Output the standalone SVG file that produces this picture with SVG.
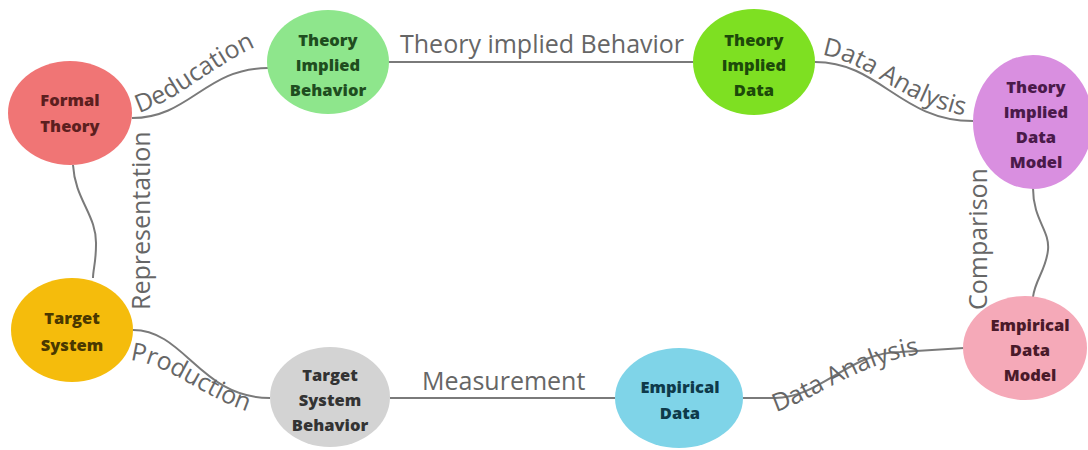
<svg xmlns="http://www.w3.org/2000/svg" width="1088" height="450" viewBox="0 0 1088 450">
<defs>
<style>
.edge{fill:none;stroke:#7a7a7a;stroke-width:2}
.guide{fill:none;stroke:none}
.lbl{font-family:"Open Sans","Liberation Sans",sans-serif;font-size:25px;fill:#666}
.nt{font-family:"Open Sans","Liberation Sans",sans-serif;font-size:16.5px;font-weight:800;text-anchor:middle}
</style>
<path id="g1" class="guide" d="M139,113 C180,100 218,60 268,42"/>
<path id="g2" class="guide" d="M822,55 C870,62 905,108 975,117"/>
<path id="g3" class="guide" d="M130,360 C170,364 205,400 256,414"/>
<path id="g4" class="guide" d="M776,412 C820,398 860,360 935,352"/>
</defs>
<rect width="1088" height="450" fill="#fff"/>
<g id="connectors">
<path class="edge" d="M132,118 C190,118 205,68 268,68"/>
<path class="edge" d="M388,62 L693,62"/>
<path class="edge" d="M815,62 C880,62 900,121 973,121"/>
<path class="edge" d="M1033,188 C1033,220 1050,230 1048,250 C1046,270 1035,280 1033,297"/>
<path class="edge" d="M73,165 C75,200 97,215 96,245 C96,262 93,270 93,278"/>
<path class="edge" d="M133,330 C185,330 200,398 270,398"/>
<path class="edge" d="M390,398 L615,398"/>
<path class="edge" d="M743,398 L775,398 C820,398 850,352 900,352 L964,348"/>
<text class="lbl"><textPath href="#g1">Deducation</textPath></text>
<text class="lbl" x="400" y="53">Theory implied Behavior</text>
<text class="lbl"><textPath href="#g2">Data Analysis</textPath></text>
<text class="lbl" transform="translate(987,310) rotate(-90)">Comparison</text>
<text class="lbl" transform="translate(150,310) rotate(-90)">Representation</text>
<text class="lbl"><textPath href="#g3">Production</textPath></text>
<text class="lbl" x="422" y="390">Measurement</text>
<text class="lbl"><textPath href="#g4">Data Analysis</textPath></text>
</g>
<g id="formal-theory">
<ellipse cx="70" cy="113" rx="62" ry="52" fill="#f07575"/>
<text class="nt" fill="#5c1f1f"><tspan x="70" y="106">Formal</tspan><tspan x="70" y="132">Theory</tspan></text>
</g>
<g id="theory-implied-behavior">
<ellipse cx="328" cy="62" rx="61" ry="52" fill="#8ee68c"/>
<text class="nt" fill="#1f4d1f"><tspan x="328" y="46">Theory</tspan><tspan x="328" y="71">Implied</tspan><tspan x="328" y="96">Behavior</tspan></text>
</g>
<g id="theory-implied-data">
<ellipse cx="754" cy="62" rx="61" ry="53" fill="#7ee022"/>
<text class="nt" fill="#1d4a0a"><tspan x="754" y="46">Theory</tspan><tspan x="754" y="71">Implied</tspan><tspan x="754" y="96">Data</tspan></text>
</g>
<g id="theory-implied-data-model">
<ellipse cx="1033" cy="122" rx="60" ry="67" fill="#d98fe0"/>
<text class="nt" fill="#4a1a4a"><tspan x="1036" y="93">Theory</tspan><tspan x="1036" y="118">Implied</tspan><tspan x="1036" y="143">Data</tspan><tspan x="1036" y="168">Model</tspan></text>
</g>
<g id="target-system">
<ellipse cx="72" cy="330" rx="61" ry="52" fill="#f5bc0c"/>
<text class="nt" fill="#4a3800"><tspan x="72" y="324">Target</tspan><tspan x="72" y="351">System</tspan></text>
</g>
<g id="target-system-behavior">
<ellipse cx="330" cy="397" rx="60" ry="50" fill="#d3d3d3"/>
<text class="nt" fill="#333"><tspan x="330" y="381">Target</tspan><tspan x="330" y="406">System</tspan><tspan x="330" y="431">Behavior</tspan></text>
</g>
<g id="empirical-data">
<ellipse cx="679" cy="398" rx="64" ry="50" fill="#7fd4e8"/>
<text class="nt" fill="#0e3a4a"><tspan x="680" y="393">Empirical</tspan><tspan x="680" y="419">Data</tspan></text>
</g>
<g id="empirical-data-model">
<ellipse cx="1025" cy="348" rx="62" ry="52" fill="#f5a9b8"/>
<text class="nt" fill="#4a1a2a"><tspan x="1030" y="331">Empirical</tspan><tspan x="1030" y="356">Data</tspan><tspan x="1030" y="381">Model</tspan></text>
</g>
</svg>
